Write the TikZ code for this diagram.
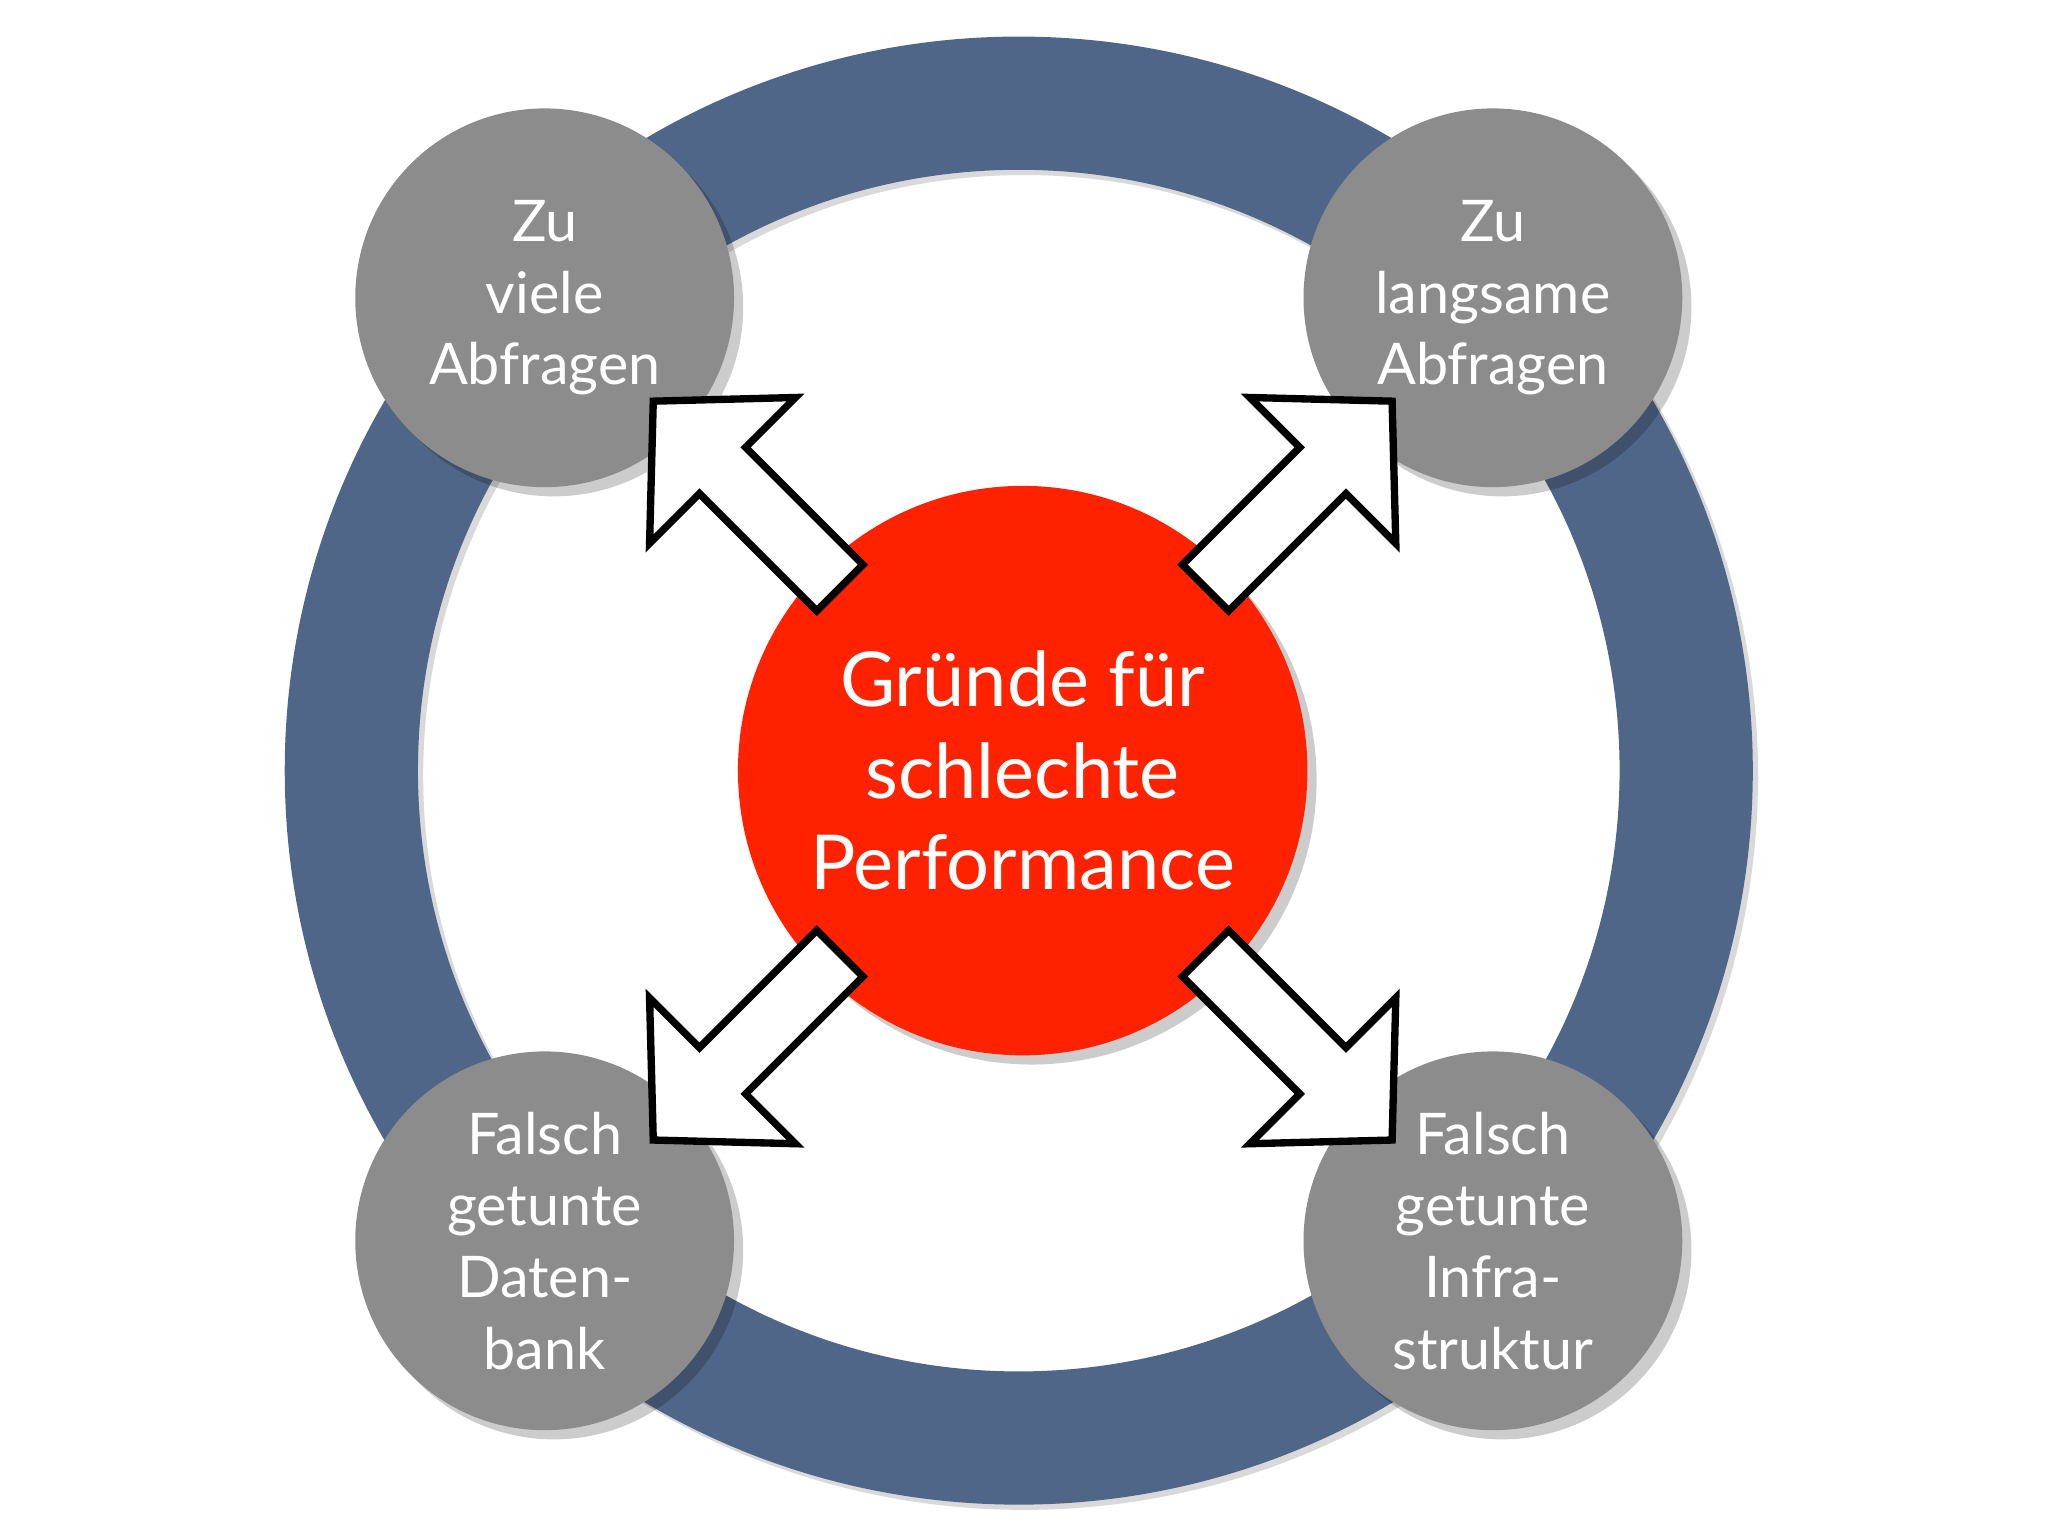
\documentclass[tikz,border=0pt]{standalone}
\usepackage{fontspec}
\setmainfont{Lato}
\usetikzlibrary{shadows}
\definecolor{ringblue}{HTML}{4F6688}
\definecolor{redc}{HTML}{FF2200}
\definecolor{grayc}{HTML}{8C8C8C}
\newlength{\unitlen}\setlength{\unitlen}{0.01cm}
\tikzset{
  sh/.style={drop shadow={shadow xshift=2pt,shadow yshift=-2pt,opacity=0.2,fill=black}},
  outer/.style={circle,fill=grayc,minimum size=290\unitlen,inner sep=0pt,sh,text=white,align=center,font=\fontsize{12.5}{15.6}\selectfont},
  blockarrow/.style={fill=white,draw=black,line width=1.6pt,line join=miter}
}
\begin{document}
\begin{tikzpicture}[x=0.01cm,y=-0.01cm]
\useasboundingbox (0,0) rectangle (1568,1176);
\fill[white] (0,0) rectangle (1568,1176);
\draw[black!15,line width=102\unitlen] (784,594) circle[radius=511];
\draw[ringblue,line width=102\unitlen] (780,590) circle[radius=511];
\node[circle,fill=redc,minimum size=436\unitlen,inner sep=0pt,sh,text=white,align=center,font=\fontsize{16.5}{19.9}\selectfont] (c) at (783,590) {Gründe für\\schlechte\\Performance};
\node[outer] (tl) at (417,228) {Zu\\viele\\Abfragen};
\node[outer] (tr) at (1143,228) {Zu\\langsame\\Abfragen};
\node[outer] (bl) at (417,950) {Falsch\\getunte\\Daten-\\bank};
\node[outer] (br) at (1143,950) {Falsch\\getunte\\Infra-\\struktur};
\foreach \a in {135,45,225,-45}{
  \begin{scope}[shift={(c.center)},rotate=\a]
    \draw[blockarrow] (198,-25) -- (325,-25) -- (325,-79) -- (400,0) -- (325,79) -- (325,25) -- (198,25) -- cycle;
  \end{scope}
}
\end{tikzpicture}
\end{document}
